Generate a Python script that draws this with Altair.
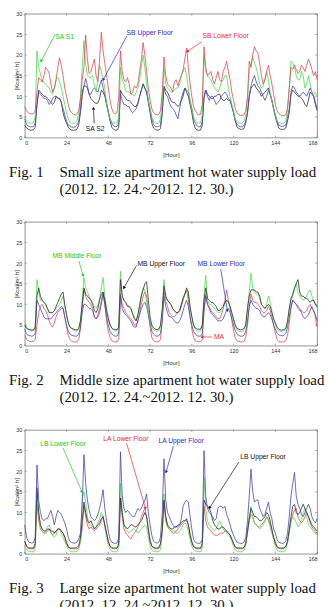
import math
import altair as alt
import pandas as pd

HOURS = list(range(169))
X_TICKS = [0, 24, 48, 72, 96, 120, 144, 168]
Y_TICKS = [0, 5, 10, 15, 20, 25, 30]

# ---------------- Fig. 1 (small size apartments) ----------------
sa_s1 = [5.0, 4.0, 3.6, 3.5, 3.5, 3.6, 5.0, 21.0, 17.0, 15.5, 13.5, 13.5, 13.0, 12.5, 12.0, 11.0, 10.5, 12.0, 14.0, 14.5, 13.5, 12.0, 10.0, 8.0,
         6.0, 4.5, 3.8, 3.5, 3.4, 3.5, 4.0, 6.0, 10.0, 17.0, 23.5, 18.0, 15.0, 14.5, 14.5, 15.0, 12.5, 11.0, 14.0, 17.5, 16.0, 14.0, 12.0, 8.0,
         6.0, 4.5, 3.8, 3.5, 3.5, 3.6, 5.0, 17.0, 14.0, 13.0, 11.5, 11.0, 11.0, 10.5, 10.5, 10.0, 11.0, 12.0, 14.0, 17.0, 20.0, 17.0, 13.0, 9.0,
         7.0, 5.0, 4.0, 3.5, 3.4, 3.5, 4.5, 9.0, 17.0, 13.0, 12.0, 11.5, 11.0, 11.0, 11.5, 12.0, 12.0, 13.0, 15.0, 16.0, 17.0, 15.0, 12.0, 9.0,
         7.0, 5.0, 4.0, 3.6, 3.5, 3.6, 5.5, 20.0, 16.0, 15.0, 14.5, 14.0, 13.0, 12.0, 11.5, 11.0, 12.0, 13.5, 14.0, 15.0, 15.0, 12.0, 10.0, 8.0,
         6.5, 4.5, 3.8, 3.5, 3.4, 3.5, 4.0, 5.5, 9.0, 16.0, 18.0, 19.7, 18.0, 17.0, 15.0, 13.0, 12.0, 12.5, 14.0, 16.0, 14.0, 11.0, 9.0, 7.0,
         5.5, 4.0, 3.6, 3.5, 3.4, 3.5, 4.0, 7.0, 12.0, 18.5, 18.0, 17.0, 15.0, 14.0, 14.0, 16.0, 15.0, 12.0, 13.0, 15.0, 13.0, 11.0, 10.5, 11.0,
         10.0]
sb_lower = [7.5, 6.5, 6.0, 5.8, 5.7, 5.8, 6.5, 11.0, 14.5, 14.0, 13.5, 15.0, 17.0, 16.5, 15.5, 13.0, 11.0, 12.0, 14.0, 17.0, 19.3, 17.5, 15.0, 12.0,
            10.0, 8.0, 6.5, 6.0, 5.6, 5.5, 5.8, 6.5, 9.0, 14.0, 17.0, 24.8, 19.0, 15.5, 16.0, 17.5, 19.0, 15.0, 13.5, 19.0, 25.5, 21.0, 18.0, 15.0,
            12.0, 9.0, 7.0, 6.0, 5.8, 6.0, 10.0, 21.0, 16.0, 14.0, 13.5, 14.5, 13.0, 10.5, 11.0, 12.5, 12.0, 13.0, 16.0, 19.0, 23.0, 20.0, 16.0, 12.0,
            9.0, 7.0, 6.0, 5.6, 5.5, 5.6, 6.5, 11.0, 19.5, 15.0, 13.0, 12.5, 12.0, 11.0, 13.5, 14.0, 12.5, 14.0, 15.0, 16.5, 19.0, 21.7, 17.0, 13.0,
            10.0, 7.5, 6.5, 5.8, 5.5, 5.6, 8.0, 22.0, 17.0, 15.0, 15.5, 16.0, 14.0, 13.0, 14.5, 16.0, 14.0, 13.5, 16.0, 17.0, 18.5, 16.0, 14.0, 11.0,
            9.0, 7.0, 6.0, 5.5, 5.4, 5.4, 5.5, 6.5, 10.0, 18.5, 17.0, 20.0, 22.0, 21.0, 20.5, 18.0, 15.0, 13.0, 14.0, 16.0, 17.5, 15.0, 13.0, 10.5,
            8.0, 6.5, 5.8, 5.5, 5.3, 5.3, 5.5, 7.0, 12.0, 17.0, 16.5, 17.5, 16.5, 15.5, 16.0, 17.5, 17.0, 16.0, 17.5, 19.0, 18.0, 16.5, 15.0, 16.0,
            14.0]
sb_upper = [4.5, 3.2, 2.8, 2.6, 2.6, 2.7, 3.5, 8.0, 11.0, 10.5, 10.0, 9.5, 9.5, 9.0, 8.0, 8.5, 9.5, 10.0, 10.0, 9.5, 9.5, 8.5, 7.0, 5.5,
            4.0, 3.0, 2.8, 2.5, 2.5, 2.6, 3.0, 4.0, 7.0, 11.0, 12.5, 14.3, 12.5, 10.5, 10.5, 11.5, 12.0, 11.5, 11.0, 12.5, 14.0, 12.0, 10.5, 8.5,
            6.5, 4.5, 3.5, 2.8, 2.6, 2.7, 3.5, 10.5, 9.0, 8.0, 8.0, 7.5, 7.5, 6.5, 6.0, 6.5, 7.0, 8.0, 10.0, 11.5, 13.0, 12.0, 11.0, 9.0,
            7.0, 4.5, 3.2, 2.7, 2.6, 2.7, 3.0, 6.0, 12.0, 10.5, 10.0, 8.5, 7.5, 7.0, 6.5, 5.5, 4.5, 7.0, 9.5, 11.0, 12.0, 11.5, 11.0, 9.0,
            7.0, 4.5, 3.5, 2.8, 2.6, 2.6, 4.0, 10.0, 11.5, 10.0, 9.0, 10.0, 10.0, 9.0, 8.0, 8.5, 9.0, 10.0, 10.5, 11.0, 10.5, 9.5, 9.0, 7.5,
            6.0, 4.0, 3.2, 2.8, 2.6, 2.6, 3.0, 4.0, 6.0, 10.0, 12.5, 14.0, 15.0, 13.5, 12.5, 12.0, 11.0, 10.0, 9.0, 10.0, 11.5, 10.5, 9.0, 7.0,
            5.5, 4.0, 3.0, 2.8, 2.7, 2.8, 3.0, 5.0, 7.0, 11.0, 12.5, 12.0, 11.0, 10.5, 10.0, 10.5, 11.0, 10.5, 10.0, 11.0, 12.0, 11.0, 10.0, 8.5,
            7.0]
sa_s2 = [3.0, 2.3, 2.0, 1.8, 1.8, 1.9, 2.5, 8.0, 11.5, 11.0, 10.5, 10.0, 10.0, 9.5, 9.0, 8.5, 8.0, 8.5, 10.0, 9.5, 9.5, 8.5, 6.0, 4.5,
         3.5, 2.5, 2.0, 1.8, 1.8, 1.8, 2.0, 3.0, 6.0, 10.0, 12.5, 12.5, 12.0, 10.5, 9.5, 9.0, 8.5, 8.3, 8.3, 9.5, 11.5, 11.0, 10.0, 8.0,
         6.0, 4.0, 2.5, 2.0, 1.8, 1.8, 2.5, 11.5, 10.5, 10.0, 9.5, 9.0, 9.0, 8.5, 8.0, 7.5, 7.5, 8.5, 10.0, 11.5, 13.0, 12.0, 11.0, 8.5,
         6.0, 3.5, 2.3, 1.9, 1.8, 1.8, 2.2, 6.0, 12.5, 11.5, 11.0, 10.0, 9.0, 8.5, 8.5, 8.0, 7.5, 8.0, 9.0, 10.0, 12.0, 11.0, 10.0, 8.0,
         6.0, 3.5, 2.2, 1.8, 1.8, 1.8, 3.0, 9.5, 11.5, 10.5, 10.0, 9.5, 9.5, 10.0, 10.0, 10.5, 10.5, 9.5, 9.0, 9.0, 9.5, 9.0, 9.0, 7.5,
         6.0, 4.0, 2.5, 2.2, 2.0, 2.0, 2.2, 3.5, 6.0, 10.0, 12.0, 12.5, 13.0, 12.0, 11.5, 11.0, 10.0, 10.5, 11.0, 11.5, 12.0, 10.5, 9.0, 7.0,
         5.0, 3.5, 2.3, 2.0, 2.0, 2.0, 2.3, 4.0, 6.0, 10.5, 11.5, 11.0, 10.5, 10.0, 10.0, 9.5, 9.0, 8.0, 7.5, 9.0, 11.0, 10.5, 10.0, 8.0,
         6.5]

# ---------------- Fig. 2 (middle size apartments) ----------------
mb_middle = [6.0, 4.5, 4.0, 3.7, 3.6, 3.6, 4.5, 16.0, 13.0, 11.0, 11.0, 10.5, 10.0, 9.0, 8.5, 8.0, 8.0, 8.5, 9.0, 9.5, 10.0, 11.0, 12.0, 9.5,
             7.5, 5.5, 4.5, 4.0, 3.8, 3.6, 3.5, 4.0, 6.0, 11.0, 16.5, 14.0, 13.0, 12.0, 11.0, 10.5, 9.5, 9.0, 10.0, 11.5, 14.0, 16.5, 12.0, 9.0,
             7.0, 5.0, 4.2, 3.8, 3.6, 3.6, 4.5, 18.0, 12.0, 11.0, 10.5, 10.0, 9.5, 9.0, 8.0, 7.0, 6.0, 7.5, 10.0, 12.5, 14.0, 13.5, 10.5, 8.0,
             6.0, 4.5, 3.8, 3.6, 3.5, 3.6, 4.5, 8.0, 16.0, 12.0, 11.0, 10.5, 10.0, 9.0, 8.5, 8.0, 8.0, 8.5, 10.0, 11.5, 12.5, 13.5, 12.0, 9.0,
             7.0, 5.0, 4.0, 3.6, 3.5, 3.6, 5.0, 12.0, 17.0, 11.0, 10.0, 10.0, 9.5, 9.0, 8.5, 8.0, 8.0, 8.5, 9.0, 10.0, 11.0, 11.0, 9.5, 7.5,
             6.0, 4.5, 3.8, 3.5, 3.4, 3.5, 3.8, 5.0, 9.0, 13.0, 17.5, 14.0, 13.0, 12.5, 12.5, 11.5, 10.0, 9.5, 9.0, 10.0, 12.0, 10.5, 8.5, 6.5,
             5.0, 4.0, 3.6, 3.5, 3.5, 3.6, 4.0, 5.5, 9.0, 11.0, 12.0, 13.5, 15.0, 13.0, 12.0, 11.5, 11.0, 11.5, 12.0, 13.0, 13.5, 12.0, 11.0, 10.0,
             9.0]
mb_upper = [5.0, 4.2, 4.0, 3.9, 3.8, 3.8, 4.5, 12.0, 14.0, 12.0, 11.0, 10.5, 10.0, 9.0, 8.0, 8.0, 8.0, 8.5, 9.5, 10.5, 11.5, 12.5, 13.0, 10.0,
            7.5, 5.5, 4.5, 4.2, 4.0, 3.9, 3.8, 4.2, 6.0, 10.0, 14.0, 12.5, 12.0, 11.5, 11.0, 10.0, 8.5, 8.0, 9.0, 11.0, 12.5, 13.0, 11.0, 8.5,
            6.5, 5.0, 4.3, 4.0, 3.9, 3.9, 4.5, 16.0, 12.0, 11.0, 10.5, 9.5, 9.5, 9.0, 7.5, 6.5, 6.0, 7.5, 9.5, 12.0, 13.5, 15.0, 15.5, 11.0,
            7.0, 5.0, 4.3, 4.0, 3.9, 4.0, 5.0, 9.0, 14.5, 12.0, 11.0, 10.5, 10.0, 9.0, 8.5, 8.0, 8.0, 8.5, 10.0, 11.5, 12.5, 14.0, 13.0, 9.5,
            7.0, 5.0, 4.3, 4.0, 4.0, 4.0, 5.0, 11.0, 14.0, 11.5, 11.0, 10.5, 10.5, 10.0, 9.5, 8.5, 8.5, 9.0, 9.5, 10.5, 11.0, 10.5, 9.5, 8.0,
            6.5, 5.0, 4.2, 4.0, 3.8, 3.9, 4.2, 5.0, 9.0, 12.0, 13.5, 13.5, 13.5, 13.0, 13.0, 12.0, 10.0, 9.5, 9.0, 9.5, 10.0, 9.5, 8.0, 6.5,
            5.5, 4.5, 4.0, 3.8, 3.8, 3.9, 4.2, 6.0, 9.0, 11.5, 12.5, 14.0, 15.0, 16.0, 13.0, 12.0, 12.0, 11.5, 11.5, 11.0, 10.5, 11.0, 11.0, 10.0,
            9.5]
mb_lower = [4.0, 2.8, 2.5, 2.4, 2.3, 2.4, 3.0, 11.0, 10.0, 9.0, 8.0, 7.0, 6.5, 6.5, 6.5, 6.5, 7.0, 7.5, 8.0, 8.5, 9.0, 9.5, 9.0, 7.0,
            5.0, 3.5, 2.8, 2.5, 2.4, 2.3, 2.3, 2.8, 4.5, 8.0, 10.0, 10.0, 9.5, 9.0, 9.0, 8.5, 7.0, 6.5, 7.0, 8.0, 10.0, 12.5, 10.0, 7.0,
            5.0, 3.5, 2.8, 2.5, 2.3, 2.3, 3.0, 12.0, 9.0, 8.0, 7.5, 7.0, 6.5, 6.0, 5.0, 4.5, 4.5, 6.0, 7.5, 9.0, 10.0, 10.5, 9.5, 7.5,
            5.5, 3.5, 2.8, 2.4, 2.3, 2.4, 3.0, 6.0, 12.0, 9.5, 8.0, 7.0, 7.0, 6.5, 6.0, 5.5, 5.5, 6.0, 7.0, 8.5, 10.0, 11.0, 9.5, 7.0,
            5.0, 3.5, 2.8, 2.4, 2.3, 2.3, 3.0, 9.0, 12.0, 10.0, 9.0, 8.0, 7.5, 7.0, 6.5, 6.0, 6.0, 6.0, 6.5, 7.5, 8.5, 9.0, 8.0, 6.5,
            5.0, 3.5, 2.8, 2.5, 2.3, 2.3, 2.5, 3.5, 6.0, 9.5, 11.0, 10.0, 9.5, 9.0, 9.0, 8.5, 7.5, 7.0, 7.0, 7.5, 8.0, 7.5, 6.5, 5.0,
            4.0, 3.0, 2.6, 2.5, 2.4, 2.5, 3.0, 4.5, 7.0, 9.5, 11.0, 10.5, 10.0, 9.5, 9.0, 8.0, 7.0, 6.5, 7.0, 7.5, 8.5, 9.5, 8.5, 7.5,
            6.0]
ma = [2.5, 1.5, 1.2, 1.0, 1.0, 1.0, 1.5, 5.0, 8.0, 9.5, 10.0, 9.0, 8.5, 7.5, 6.0, 5.0, 4.5, 5.5, 7.0, 8.0, 8.5, 9.0, 9.0, 7.0,
      4.5, 2.5, 1.5, 1.0, 0.9, 0.9, 0.9, 1.5, 4.0, 9.0, 13.5, 12.0, 11.0, 10.5, 10.0, 9.0, 7.0, 6.5, 7.5, 9.0, 11.0, 13.0, 10.0, 6.0,
      3.5, 2.0, 1.2, 1.0, 0.9, 0.9, 1.5, 12.5, 10.0, 9.0, 8.0, 7.5, 7.0, 6.5, 6.0, 5.0, 5.0, 6.0, 8.0, 10.0, 12.0, 13.0, 12.0, 8.0,
      4.5, 2.0, 1.2, 1.0, 0.9, 1.0, 1.5, 6.0, 13.0, 11.0, 9.5, 8.0, 7.5, 7.0, 7.0, 7.5, 8.0, 8.5, 9.5, 11.0, 12.5, 13.5, 11.0, 7.0,
      4.0, 2.0, 1.2, 1.0, 0.9, 1.0, 1.5, 8.0, 12.5, 10.0, 9.5, 8.5, 8.0, 7.5, 7.0, 6.5, 6.5, 7.5, 9.0, 11.0, 13.5, 11.0, 9.0, 6.0,
      3.5, 1.8, 1.2, 1.0, 0.9, 0.9, 1.0, 2.0, 5.0, 9.5, 12.5, 11.0, 10.5, 10.5, 10.0, 9.5, 8.5, 8.0, 8.0, 8.5, 9.5, 8.5, 7.0, 5.0,
      3.0, 1.5, 1.0, 0.9, 0.9, 0.9, 1.2, 2.5, 5.5, 9.0, 11.0, 10.5, 10.0, 9.0, 8.5, 8.5, 8.0, 8.0, 8.5, 9.5, 10.0, 9.0, 8.5, 7.0,
      4.5]

# ---------------- Fig. 3 (large size apartments) ----------------
la_upper = [7.0, 4.0, 3.0, 2.7, 2.6, 2.7, 4.0, 21.5, 13.0, 10.0, 8.5, 8.0, 8.5, 8.5, 9.5, 10.5, 9.0, 7.0, 9.0, 10.5, 10.0, 9.5, 8.5, 7.5,
            6.0, 4.0, 3.0, 2.7, 2.6, 2.6, 2.8, 3.5, 5.0, 12.0, 24.0, 17.0, 13.0, 10.5, 9.0, 8.5, 8.0, 8.5, 9.5, 11.0, 13.0, 15.5, 11.0, 8.0,
            5.5, 3.5, 2.8, 2.6, 2.5, 2.6, 4.0, 24.7, 14.0, 11.0, 10.0, 10.5, 10.0, 9.5, 9.0, 9.0, 10.0, 11.0, 10.5, 11.0, 12.0, 13.0, 14.5, 10.0,
            7.0, 4.5, 3.0, 2.7, 2.6, 2.8, 4.0, 10.0, 23.0, 13.0, 10.0, 9.0, 8.0, 7.0, 6.5, 6.5, 6.5, 7.0, 8.5, 11.5, 12.5, 13.0, 12.5, 9.0,
            6.0, 3.5, 2.8, 2.6, 2.5, 2.6, 3.5, 25.0, 14.0, 11.0, 10.0, 9.5, 9.0, 8.0, 8.5, 11.0, 11.5, 11.5, 11.0, 11.5, 9.5, 8.5, 7.0, 5.5,
            4.5, 3.5, 2.8, 2.6, 2.5, 2.5, 2.8, 4.0, 8.0, 14.0, 20.5, 15.0, 12.5, 13.0, 13.0, 11.0, 10.0, 9.0, 9.5, 11.0, 12.5, 10.0, 8.5, 6.0,
            5.0, 3.5, 2.8, 2.6, 2.5, 2.6, 3.0, 5.0, 9.0, 14.0, 17.0, 19.7, 14.0, 12.0, 11.0, 9.5, 9.0, 10.0, 11.0, 12.0, 11.0, 9.0, 8.0, 7.5,
            8.5]
la_lower = [3.0, 1.8, 1.3, 1.2, 1.2, 1.2, 2.0, 12.0, 8.0, 6.0, 5.5, 5.0, 5.0, 5.5, 6.0, 5.0, 4.5, 5.0, 5.5, 6.0, 6.0, 5.5, 5.0, 4.0,
            3.0, 1.8, 1.3, 1.2, 1.2, 1.2, 1.2, 1.5, 3.0, 6.0, 11.5, 9.0, 7.0, 6.0, 6.5, 6.0, 5.5, 6.0, 6.5, 7.0, 8.0, 9.0, 7.0, 5.0,
            3.0, 1.8, 1.3, 1.2, 1.2, 1.3, 2.0, 13.0, 9.0, 6.0, 5.0, 4.5, 4.0, 3.5, 4.5, 5.0, 5.5, 6.5, 7.5, 9.0, 10.0, 11.0, 9.0, 6.0,
            3.5, 2.0, 1.4, 1.2, 1.2, 1.3, 2.0, 5.0, 12.5, 8.0, 6.5, 6.0, 5.5, 5.0, 5.0, 5.5, 6.0, 6.5, 7.0, 7.5, 8.0, 8.0, 7.0, 5.0,
            3.0, 1.8, 1.3, 1.2, 1.2, 1.2, 2.0, 11.5, 8.0, 6.5, 6.0, 5.5, 5.0, 4.5, 4.5, 4.5, 5.0, 5.0, 5.0, 5.5, 5.5, 5.0, 4.5, 3.5,
            2.5, 1.6, 1.3, 1.2, 1.2, 1.2, 1.5, 2.5, 5.0, 8.0, 9.5, 9.0, 7.5, 7.0, 6.5, 6.5, 7.0, 7.5, 8.0, 9.0, 8.5, 7.0, 5.5, 4.0,
            3.0, 1.8, 1.4, 1.2, 1.2, 1.3, 1.8, 3.0, 5.5, 8.0, 9.5, 10.5, 11.0, 9.0, 8.0, 7.5, 8.0, 9.0, 10.0, 9.0, 7.5, 6.5, 6.0, 5.5,
            5.0]
lb_lower = [2.0, 1.0, 0.6, 0.5, 0.5, 0.5, 1.5, 15.0, 10.0, 7.0, 5.5, 5.0, 5.5, 6.5, 7.0, 5.5, 4.5, 4.0, 4.5, 6.0, 6.0, 5.0, 4.0, 3.0,
            1.8, 1.0, 0.6, 0.5, 0.5, 0.5, 0.6, 1.0, 3.0, 13.0, 15.0, 12.5, 9.0, 7.0, 7.0, 6.5, 6.0, 6.5, 7.5, 8.5, 10.0, 9.0, 6.5, 4.0,
            2.0, 1.0, 0.6, 0.5, 0.5, 0.5, 1.5, 17.0, 10.0, 7.0, 6.0, 5.5, 5.0, 5.5, 6.0, 6.0, 5.5, 5.0, 5.5, 6.0, 6.5, 7.0, 6.5, 4.0,
            2.0, 1.0, 0.6, 0.5, 0.5, 0.5, 1.0, 5.0, 14.5, 9.0, 7.0, 6.0, 5.5, 5.5, 5.5, 5.0, 5.0, 5.5, 6.0, 7.0, 7.5, 7.0, 5.5, 3.5,
            1.8, 0.9, 0.6, 0.5, 0.5, 0.5, 1.5, 18.5, 11.0, 8.0, 7.0, 6.5, 6.0, 5.5, 6.0, 7.0, 8.0, 7.0, 6.0, 5.5, 5.0, 4.5, 4.0, 3.0,
            1.8, 0.9, 0.6, 0.5, 0.5, 0.5, 0.8, 2.0, 6.0, 9.0, 11.5, 9.0, 7.5, 7.0, 6.5, 6.0, 6.5, 7.0, 8.0, 9.0, 8.0, 6.5, 5.0, 3.5,
            1.8, 0.9, 0.6, 0.5, 0.5, 0.5, 1.0, 2.5, 5.0, 7.5, 9.0, 8.5, 7.5, 6.5, 7.0, 8.5, 10.0, 11.0, 9.0, 7.0, 6.5, 6.0, 5.5, 5.0,
            4.5]
lb_upper = [3.0, 1.8, 1.5, 1.4, 1.4, 1.4, 2.5, 16.0, 10.0, 7.0, 6.0, 5.5, 5.5, 6.0, 6.0, 5.5, 5.5, 5.0, 5.5, 6.0, 6.0, 5.5, 5.0, 4.0,
            2.5, 1.6, 1.4, 1.4, 1.4, 1.4, 1.5, 2.0, 4.0, 8.0, 12.5, 10.0, 8.0, 7.5, 8.0, 7.0, 6.0, 6.5, 7.0, 7.5, 8.5, 9.0, 7.0, 5.0,
            3.0, 1.8, 1.5, 1.4, 1.4, 1.4, 2.5, 13.5, 10.0, 7.0, 6.5, 6.0, 6.5, 7.0, 7.0, 6.5, 6.5, 7.0, 7.5, 8.0, 9.0, 10.0, 9.0, 6.0,
            3.0, 1.8, 1.5, 1.4, 1.4, 1.5, 2.5, 6.0, 13.0, 9.0, 7.0, 6.5, 6.0, 6.0, 6.5, 6.5, 7.0, 7.0, 7.5, 8.0, 8.0, 8.5, 7.0, 4.5,
            2.8, 1.7, 1.5, 1.4, 1.4, 1.4, 2.5, 13.0, 12.0, 11.5, 11.0, 10.0, 8.0, 7.0, 6.5, 6.0, 6.0, 6.5, 6.5, 6.0, 5.5, 5.0, 4.5, 3.5,
            2.5, 1.6, 1.4, 1.4, 1.4, 1.4, 1.6, 2.5, 5.5, 8.5, 11.0, 10.0, 9.0, 9.0, 8.5, 8.0, 8.0, 8.5, 9.0, 10.0, 9.5, 8.0, 6.0, 4.0,
            2.5, 1.6, 1.4, 1.4, 1.4, 1.4, 1.8, 3.0, 6.0, 9.0, 11.5, 12.0, 10.0, 9.5, 10.0, 11.0, 12.0, 11.0, 10.0, 9.0, 8.0, 7.0, 6.5, 6.0,
            5.5]

for arr in [sa_s1, sb_lower, sb_upper, sa_s2, mb_middle, mb_upper, mb_lower, ma,
            la_upper, la_lower, lb_lower, lb_upper]:
    assert len(arr) == 169, len(arr)

GREEN, RED, BLUE, BLACK = "#4fdc4f", "#d84c55", "#4646b8", "#2e2e2e"
TGREEN, TRED, TBLUE, TBLACK = "#22c822", "#e02b36", "#2a2ad0", "#111111"

# Annotations: label, text color, text (hour, value), arrow start (hour, value), arrow end (hour, value)
ann1 = [
    ("SA S1", TGREEN, 22.9, 24.3, 17.5, 25.0, 9.5, 18.6),
    ("SB Upper Floor", TBLUE, 71.8, 25.2, 58.8, 24.7, 45.2, 14.1),
    ("SB Lower Floor", TRED, 115.4, 24.6, 101.8, 23.2, 93.6, 20.9),
    ("SA S2", TBLACK, 40.4, 2.1, 39.9, 3.4, 39.5, 7.0),
]
ann2 = [
    ("MB Middle Floor", TGREEN, 30.0, 21.8, 31.1, 20.5, 33.4, 17.1),
    ("MB Upper Floor", TBLACK, 78.4, 19.8, 64.2, 19.4, 57.1, 14.1),
    ("MB Lower Floor", TBLUE, 112.9, 19.8, 112.6, 18.6, 116.4, 8.6),
    ("MA", TRED, 111.6, 2.1, 107.8, 2.1, 102.1, 2.1),
]
ann3 = [
    ("LB Lower Floor", TGREEN, 22.0, 26.6, 22.0, 25.6, 32.8, 15.1),
    ("LA Lower Floor", TRED, 58.1, 27.8, 58.5, 26.8, 69.3, 11.1),
    ("LA Upper Floor", TBLUE, 89.8, 27.3, 85.4, 26.1, 81.3, 19.9),
    ("LB Upper Floor", TBLACK, 136.9, 23.4, 123.0, 22.2, 106.3, 11.2),
]

W, H = 295, 125
PX_X = W / 168.0
PX_Y = H / 30.0

x_axis = alt.Axis(values=X_TICKS, title="[Hour]", labelPadding=3, titleY=17,
                  titleBaseline="middle")
y_axis = alt.Axis(values=Y_TICKS, title="[Kcal/m² h]", labelPadding=3, titleX=-8,
                  titleY=H / 2, titleAngle=270, titleBaseline="middle", titleAlign="center")
x_scale = alt.Scale(domain=[0, 168], nice=False, zero=False)
y_scale = alt.Scale(domain=[0, 30], nice=False)


def X(field):
    return alt.X(field, type="quantitative", scale=x_scale, axis=x_axis)


def Y(field):
    return alt.Y(field, type="quantitative", scale=y_scale, axis=y_axis)


def panel(series, ann, fig_no, caption1, caption2):
    rows = []
    for name, color, values in series:
        for h, v in zip(HOURS, values):
            rows.append({"hour": h, "load": v, "series": name})
    df = pd.DataFrame(rows)
    lines = alt.Chart(df).mark_line(strokeWidth=0.8).encode(
        x=X("hour"), y=Y("load"),
        stroke=alt.Stroke("series:N", scale=alt.Scale(domain=[s[0] for s in series],
                                                      range=[s[1] for s in series]),
                          legend=None, sort=[s[0] for s in series]),
    )

    arows = []
    for label, col, tx, ty, x1, y1, x2, y2 in ann:
        dx = (x2 - x1) * PX_X
        dy = -(y2 - y1) * PX_Y
        ang = (math.degrees(math.atan2(dx, -dy)) + 360) % 360
        arows.append({"label": label, "col": col, "tx": tx, "ty": ty,
                      "x1": x1, "y1": y1, "x2": x2, "y2": y2, "angle": ang})
    adf = pd.DataFrame(arows)
    texts = alt.Chart(adf).mark_text(font="Liberation Sans", fontSize=6.8, align="center",
                                     baseline="middle").encode(
        x=X("tx"), y=Y("ty"), text="label:N", fill=alt.Fill("col:N", scale=None))
    rules = alt.Chart(adf).mark_rule(strokeWidth=0.7).encode(
        x=X("x1"), y=Y("y1"), x2="x2:Q", y2="y2:Q", stroke=alt.Stroke("col:N", scale=None))
    heads = alt.Chart(adf).mark_point(shape="triangle", filled=True, size=12, opacity=1).encode(
        x=X("x2"), y=Y("y2"), angle=alt.Angle("angle:Q", scale=None),
        fill=alt.Fill("col:N", scale=None))

    # inward tick marks on all four sides (MATLAB-style box)
    tx_df = pd.DataFrame({"t": X_TICKS})
    ty_df = pd.DataFrame({"t": Y_TICKS})
    tick_style = dict(stroke="#777777", strokeWidth=0.6)
    bt = alt.Chart(tx_df).mark_rule(**tick_style).encode(
        x=X("t"), y=alt.value(H), y2=alt.value(H - 2))
    tt = alt.Chart(tx_df).mark_rule(**tick_style).encode(
        x=X("t"), y=alt.value(0), y2=alt.value(2))
    lt = alt.Chart(ty_df).mark_rule(**tick_style).encode(
        y=Y("t"), x=alt.value(0), x2=alt.value(2))
    rt = alt.Chart(ty_df).mark_rule(**tick_style).encode(
        y=Y("t"), x=alt.value(W), x2=alt.value(W - 2))

    cap_style = dict(font="Liberation Serif", fontSize=15, align="left",
                     baseline="alphabetic", color="#111111")
    cdf = pd.DataFrame({"a": [f"Fig. {fig_no}"], "b": [caption1], "c": [caption2]})
    c1 = alt.Chart(cdf).mark_text(**cap_style).encode(
        x=alt.value(-16), y=alt.value(165), text="a:N")
    c2 = alt.Chart(cdf).mark_text(**cap_style).encode(
        x=alt.value(35), y=alt.value(165), text="b:N")
    c3 = alt.Chart(cdf).mark_text(**cap_style).encode(
        x=alt.value(35), y=alt.value(182), text="c:N")

    return alt.layer(bt, tt, lt, rt, lines, rules, heads, texts, c1, c2, c3).resolve_scale(
        stroke="independent", fill="independent").properties(width=W, height=H)


DATES = "(2012. 12. 24.~2012. 12. 30.)"
p1 = panel([("SA S2", BLACK, sa_s2), ("SB Upper Floor", BLUE, sb_upper),
            ("SA S1", GREEN, sa_s1), ("SB Lower Floor", RED, sb_lower)],
           ann1, 1, "Small size apartment hot water supply load", DATES)
p2 = panel([("MA", RED, ma), ("MB Lower Floor", BLUE, mb_lower),
            ("MB Middle Floor", GREEN, mb_middle), ("MB Upper Floor", BLACK, mb_upper)],
           ann2, 2, "Middle size apartment hot water supply load", DATES)
p3 = panel([("LA Lower Floor", RED, la_lower), ("LB Lower Floor", GREEN, lb_lower),
            ("LB Upper Floor", BLACK, lb_upper), ("LA Upper Floor", BLUE, la_upper)],
           ann3, 3, "Large size apartment hot water supply load", DATES)

chart = alt.vconcat(p1, p2, p3, spacing=85, bounds="flush").properties(
    padding={"left": 8, "top": 8, "right": 4, "bottom": 0},
    background="white",
).configure_view(stroke="#7a7a7a", strokeWidth=0.8).configure_axis(
    domain=False, ticks=False, grid=False,
    labelFont="Liberation Sans", labelFontSize=5.5, labelColor="#333333",
    titleFont="Liberation Sans", titleFontSize=6, titleFontWeight="normal", titleColor="#333333",
)

chart.save("out.html", embed_options={"renderer": "svg", "actions": False})
